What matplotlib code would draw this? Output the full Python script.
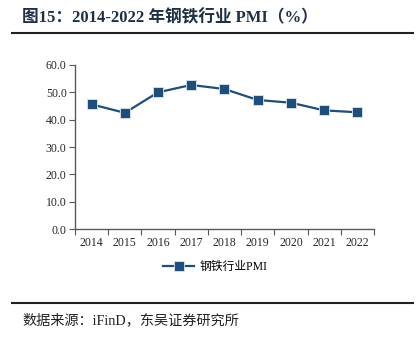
import numpy as np
import matplotlib.pyplot as plt
from matplotlib.lines import Line2D

plt.rcParams['font.family'] = ['Liberation Serif', 'Noto Sans CJK SC']

years = ['2014', '2015', '2016', '2017', '2018', '2019', '2020', '2021', '2022']
pmi = [45.6, 42.5, 50.0, 52.7, 51.2, 47.2, 46.2, 43.4, 42.7]
series_name = '钢铁行业PMI'

fig = plt.figure(figsize=(4.18, 3.41), dpi=100)
ax = fig.add_axes([0.1794, 0.3284, 0.7153, 0.481])

x = np.arange(len(years))
ax.plot(x, pmi, color='#1f4e79', lw=1.6, marker='s', ms=7,
        mfc='#1f4e79', mec='#dce6f2', mew=0.6, label=series_name)

ax.set_xlim(-0.5, len(years) - 0.5)
ax.set_ylim(0, 60)
ax.set_yticks(np.arange(0, 61, 10))
ax.set_yticklabels(['{:.1f}'.format(v) for v in np.arange(0, 61, 10)], fontsize=8.5,
                   color='#262626')
ax.set_xticks(x)
ax.set_xticklabels(years, fontsize=8.5, color='#262626')
ax.set_xticks(np.arange(-0.5, len(years)), minor=True)
ax.tick_params(axis='x', which='major', length=0, pad=6)
ax.tick_params(axis='x', which='minor', length=4, width=0.8, color='#595959')
ax.tick_params(axis='y', length=4, width=0.8, color='#595959', pad=2)
for s in ['top', 'right']:
    ax.spines[s].set_visible(False)
for s in ['left', 'bottom']:
    ax.spines[s].set_color('#595959')
    ax.spines[s].set_linewidth(1.0)

ax.legend(loc='upper center', bbox_to_anchor=(0.47, -0.13), frameon=False,
          fontsize=8.5, handlelength=2.6, handletextpad=0.5)

fig.text(0.053, 0.948, '图15：2014-2022 年钢铁行业 PMI（%）', fontsize=12,
         fontweight='bold', color='#1f3045', va='center')
fig.add_artist(Line2D([0.029, 0.988], [0.902, 0.902], color='#222222', lw=1.5))
fig.add_artist(Line2D([0.029, 0.988], [0.111, 0.111], color='#222222', lw=1.5))
fig.text(0.053, 0.062, '数据来源：iFinD，东吴证券研究所', fontsize=10.2,
         color='#222222', va='center')

fig.savefig('out.png', dpi=100)
